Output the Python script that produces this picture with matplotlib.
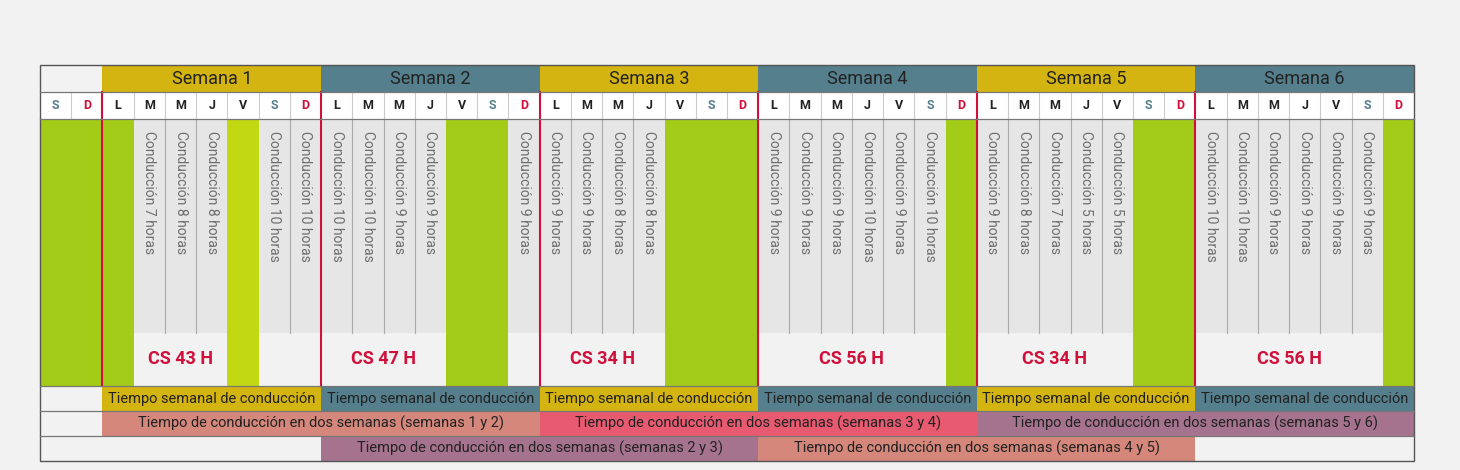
import matplotlib.pyplot as plt
from matplotlib.patches import Rectangle

plt.rcParams['font.family'] = ['Roboto', 'DejaVu Sans']

# data
weeks = ['Semana 1', 'Semana 2', 'Semana 3', 'Semana 4', 'Semana 5', 'Semana 6']
day_letters = ['L', 'M', 'M', 'J', 'V', 'S', 'D']
hours = [
    [None, 7, 8, 8, None, 10, 10],
    [10, 10, 9, 9, None, None, 9],
    [9, 9, 8, 8, None, None, None],
    [9, 9, 9, 10, 9, 10, None],
    [9, 8, 7, 5, 5, None, None],
    [10, 10, 9, 9, 9, 9, None],
]
light_rest = [(0, 4)]
pair_labels = ['(semanas 1 y 2)', '(semanas 3 y 4)', '(semanas 5 y 6)']
pair_labels2 = ['(semanas 2 y 3)', '(semanas 4 y 5)']

BG = '#f2f2f2'
GOLD = '#d4b411'
TEAL = '#557f8c'
RED = '#d0103a'
GREEN = '#a3cc18'
LGREEN = '#c1d812'
GRAY = '#e6e6e6'
pair_colors = ['#d4877a', '#e75a70', '#a6738f']
pair2_colors = ['#a6738f', '#d4877a']

W, H = 1460, 470
fig = plt.figure(figsize=(W / 100, H / 100), dpi=100, facecolor=BG)
ax = fig.add_axes([0, 0, 1, 1])
ax.set_xlim(0, W)
ax.set_ylim(H, 0)
ax.axis('off')

x0, x1 = 40, 1414
ncol = 2 + 7 * len(weeks)
cw = (x1 - x0) / ncol
y_head, y_day, y_main, y_cs, y_r1, y_r2, y_r3, y_end = 65, 92, 119, 333, 386, 411, 436, 461


def rect(x, y, w, h, fc, **kw):
    ax.add_patch(Rectangle((x, y), w, h, facecolor=fc, edgecolor='none', **kw))


def colx(c):
    return x0 + c * cw


rect(x0, y_head, x1 - x0, y_end - y_head, BG)
rect(x0, y_day, x1 - x0, y_main - y_day, 'white')

# prefix S, D (previous week rest)
for c, letter in enumerate(['S', 'D']):
    rect(colx(c), y_main, cw, y_r1 - y_main, GREEN)
    ax.text(colx(c) + cw / 2, (y_day + y_main) / 2, letter, ha='center', va='center',
            fontsize=9, fontweight='bold', color=TEAL if letter == 'S' else RED)
    ax.plot([colx(c + 1)] * 2, [y_day, y_main], color='#cccccc', lw=0.8)

for w, name in enumerate(weeks):
    base = 2 + 7 * w
    hc = GOLD if w % 2 == 0 else TEAL
    rect(colx(base), y_head, 7 * cw, y_day - y_head, hc)
    ax.text(colx(base) + 3.5 * cw, (y_head + y_day) / 2 + 1, name, ha='center', va='center',
            fontsize=13, color='#222222')
    for d, letter in enumerate(day_letters):
        c = base + d
        col = TEAL if letter == 'S' else RED if letter == 'D' else '#222222'
        ax.text(colx(c) + cw / 2, (y_day + y_main) / 2, letter, ha='center', va='center',
                fontsize=9, fontweight='bold', color=col)
        if d < 6:
            ax.plot([colx(c + 1)] * 2, [y_day, y_main], color='#cccccc', lw=0.8)
        h = hours[w][d]
        if h is None:
            fc = LGREEN if (w, d) in light_rest else GREEN
            rect(colx(c), y_main, cw, y_r1 - y_main, fc)
        else:
            rect(colx(c), y_main, cw, y_cs - y_main, GRAY)
            ax.text(colx(c) + cw / 2, y_main + 12, f'Conducción {h} horas', rotation=-90,
                    ha='center', va='top', fontsize=10, color='#6e6e6e')
            if d < 6 and hours[w][d + 1] is not None:
                ax.plot([colx(c + 1)] * 2, [y_main, y_cs], color='#aaaaaa', lw=0.8)
    # weekly total centred on first run of driving days
    days = [d for d in range(7) if hours[w][d] is not None]
    run = [days[0]]
    for d in days[1:]:
        if d == run[-1] + 1:
            run.append(d)
        else:
            break
    total = sum(hours[w][d] for d in days)
    cx = colx(base + run[0]) + (len(run) * cw) / 2
    ax.text(cx, (y_cs + y_r1) / 2, f'CS {total} H', ha='center', va='center',
            fontsize=13, fontweight='bold', color=RED)
    # weekly row
    rect(colx(base), y_r1, 7 * cw, y_r2 - y_r1, hc)
    ax.text(colx(base) + 3.5 * cw, (y_r1 + y_r2) / 2, 'Tiempo semanal de conducción',
            ha='center', va='center', fontsize=10.5, color='#222222')
    ax.plot([colx(base)] * 2, [y_day, y_r1], color=RED, lw=1.5)

for i, lab in enumerate(pair_labels):
    base = 2 + 14 * i
    rect(colx(base), y_r2, 14 * cw, y_r3 - y_r2, pair_colors[i])
    ax.text(colx(base) + 7 * cw, (y_r2 + y_r3) / 2, 'Tiempo de conducción en dos semanas ' + lab,
            ha='center', va='center', fontsize=10.5, color='#222222')
for i, lab in enumerate(pair_labels2):
    base = 9 + 14 * i
    rect(colx(base), y_r3, 14 * cw, y_end - y_r3, pair2_colors[i])
    ax.text(colx(base) + 7 * cw, (y_r3 + y_end) / 2, 'Tiempo de conducción en dos semanas ' + lab,
            ha='center', va='center', fontsize=10.5, color='#222222')

# grid lines
for y in [y_day, y_main, y_r1, y_r2, y_r3]:
    ax.plot([x0, x1], [y, y], color='#777777', lw=0.9)
ax.add_patch(Rectangle((x0, y_head), x1 - x0, y_end - y_head, facecolor='none',
                       edgecolor='#555555', lw=1.0))

fig.savefig('out.png', dpi=100, facecolor=BG)
